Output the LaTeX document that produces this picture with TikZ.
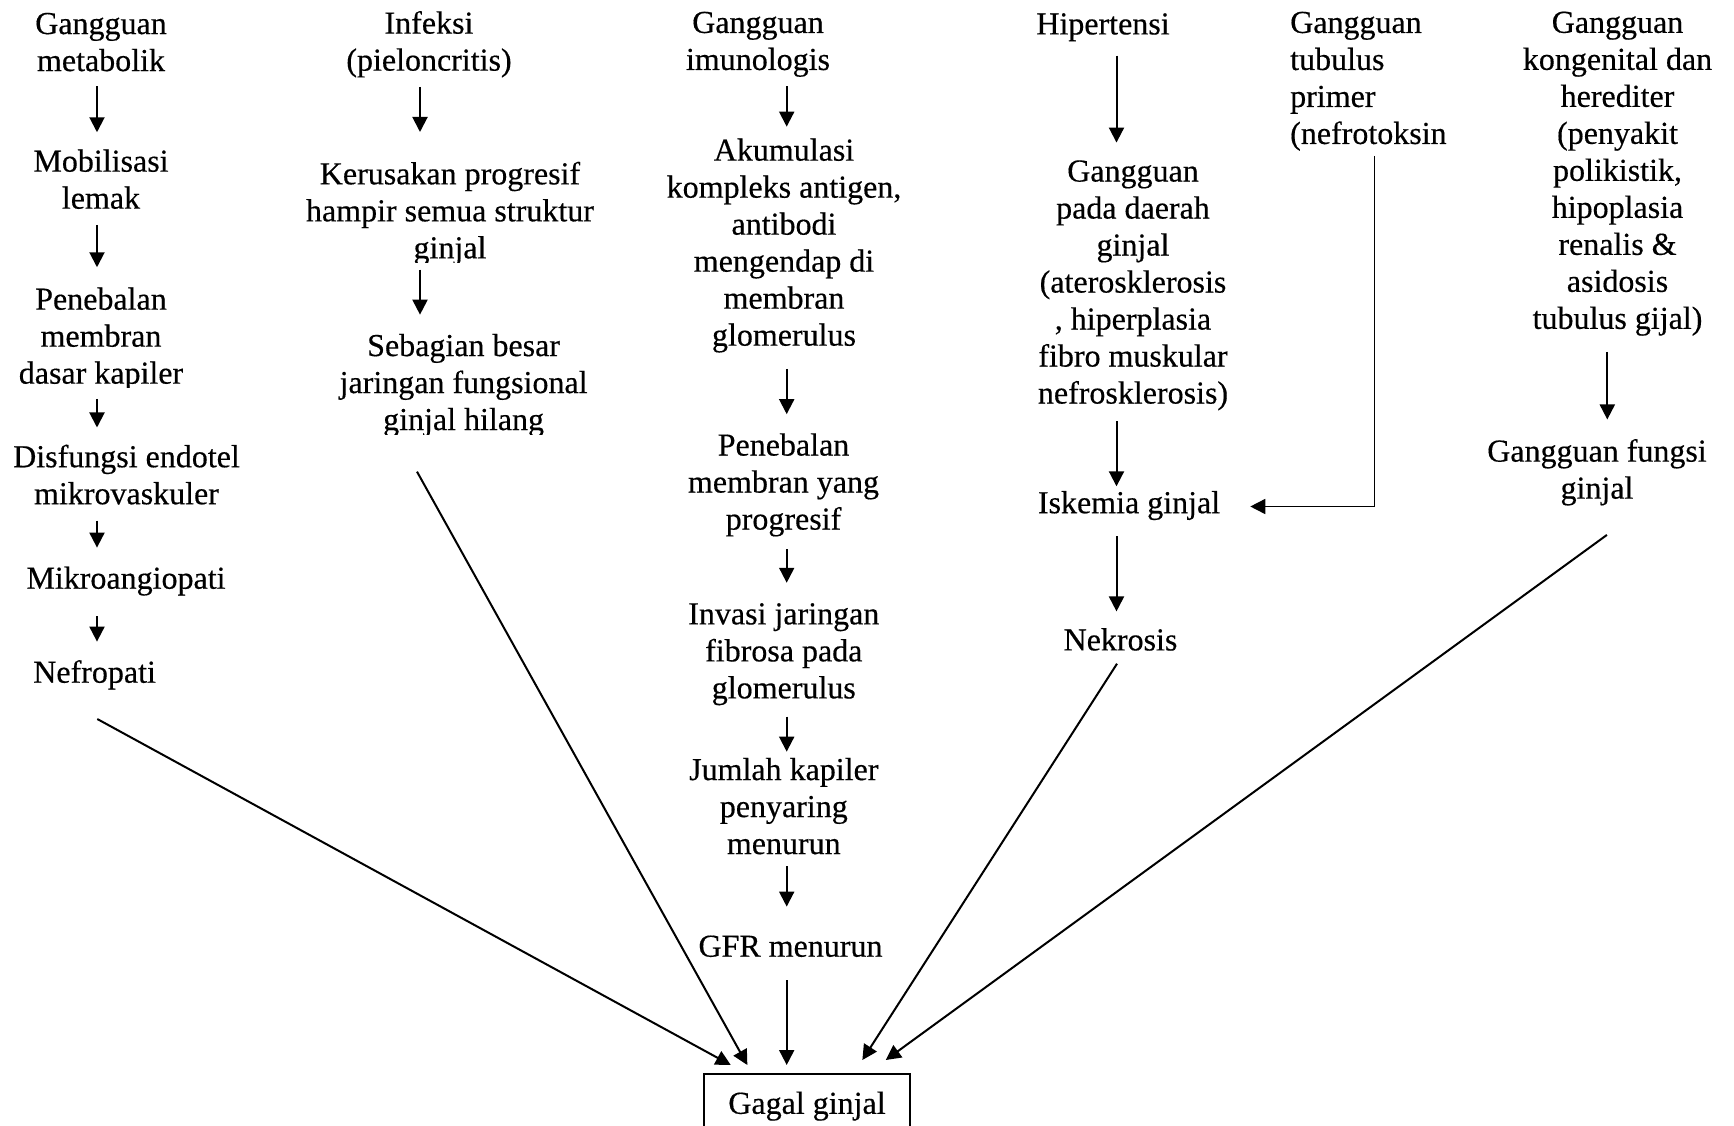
\documentclass[tikz,border=0pt]{standalone}
\usepackage{fontspec}
\setmainfont{Liberation Serif}[FakeBold=0.4]
\usetikzlibrary{arrows.meta,calc}
\begin{document}
\begin{tikzpicture}[x=1pt,y=-1pt,
  txt/.style={align=center, inner sep=0pt, font=\fontsize{32pt}{37pt}\selectfont,
    execute at begin node=\strut, execute at end node=\strut},
  txtl/.style={txt, align=left},
  arr/.style={line width=2pt, -{Triangle[length=15pt,width=15pt]}},
  thinarr/.style={line width=1.6pt, -{Triangle[length=15pt,width=15pt]}},
  boxed/.style={txt, draw, line width=1.6pt, minimum width=205.7pt, minimum height=64.6pt, anchor=north}
]
\clip (0,0) rectangle (1734,1125);
\fill[white] (0,0) rectangle (1734,1125);

% ---------- column 1 ----------
\coordinate (c1) at (97,0);
\node[txt] (m1) at (101,47.5) {Gangguan\\metabolik};
\node[txt] (m2) at (101,184.6) {Mobilisasi\\lemak};
\begin{scope}
  \clip (0,250) rectangle (300,387.5);
  \node[txt] (m3) at (101,341.1) {Penebalan\\membran\\dasar kapiler};
\end{scope}
\node[txt] (m4) at (126.5,480) {Disfungsi endotel\\mikrovaskuler};
\node[txt] (m5) at (126,581.3) {Mikroangiopati};
\node[txt] (m6) at (94.6,675.3) {Nefropati};
\draw[arr, shorten <=4pt, shorten >=17pt] (m1.south -| c1) -- (m2.north -| c1);
\draw[arr, shorten <=5pt, shorten >=20pt] (m2.south -| c1) -- (m3.north -| c1);
\draw[arr, shorten <=4pt, shorten >=17pt] (m3.south -| c1) -- (m4.north -| c1);
\draw[arr, shorten <=5pt, shorten >=15pt] (m4.south -| c1) -- (m5.north -| c1);
\draw[arr, shorten <=16pt, shorten >=15pt] (m5.south -| c1) -- (m6.north -| c1);

% ---------- column 2 ----------
\coordinate (c2) at (420,0);
\node[txt] (i1) at (429,46.4) {Infeksi\\(pieloncritis)};
\begin{scope}
  \clip (250,120) rectangle (650,262);
  \node[txt] (i2) at (450,215.6) {Kerusakan progresif\\hampir semua struktur\\ginjal};
\end{scope}
\begin{scope}
  \clip (250,300) rectangle (650,434);
  \node[txt] (i3) at (463.6,387.5) {Sebagian besar\\jaringan fungsional\\ginjal hilang};
\end{scope}
\draw[arr, shorten <=5pt, shorten >=29.6pt] (i1.south -| c2) -- (i2.north -| c2);
\draw[arr, shorten <=0pt, shorten >=19pt] (i2.south -| c2) -- (i3.north -| c2);

% ---------- column 3 ----------
\coordinate (c3) at (786.7,0);
\node[txt] (g1) at (758,46.4) {Gangguan\\imunologis};
\node[txt] (g2) at (784,247.6) {Akumulasi\\kompleks antigen,\\antibodi\\mengendap di\\membran\\glomerulus};
\node[txt] (g3) at (783.5,487) {Penebalan\\membran yang\\progresif};
\node[txt] (g4) at (783.8,656.3) {Invasi jaringan\\fibrosa pada\\glomerulus};
\node[txt] (g5) at (783.8,811.5) {Jumlah kapiler\\penyaring\\menurun};
\node[txt] (g6) at (790.5,949.3) {GFR menurun};
\draw[arr, shorten <=5pt, shorten >=11.6pt] (g1.south -| c3) -- (g2.north -| c3);
\draw[arr, shorten <=11.9pt, shorten >=19pt] (g2.south -| c3) -- (g3.north -| c3);
\draw[arr, shorten <=8.2pt, shorten >=20.2pt] (g3.south -| c3) -- (g4.north -| c3);
\draw[arr, shorten <=7pt, shorten >=6pt] (g4.south -| c3) -- (g5.north -| c3);
\draw[arr, shorten <=1pt, shorten >=24pt] (g5.south -| c3) -- (g6.north -| c3);

% ---------- column 4 ----------
\coordinate (c4) at (1116.5,0);
\node[txt] (h1) at (1103,27) {Hipertensi};
\node[txt] (h2) at (1133,287.5) {Gangguan\\pada daerah\\ginjal\\(aterosklerosis\\, hiperplasia\\fibro muskular\\nefrosklerosis)};
\node[txt] (h3) at (1129,505.8) {Iskemia ginjal};
\node[txt] (h4) at (1120.5,643) {Nekrosis};
\draw[arr, shorten <=9.8pt, shorten >=17.6pt] (h1.south -| c4) -- (h2.north -| c4);
\draw[arr, shorten <=6.6pt, shorten >=0.8pt] (h2.south -| c4) -- (h3.north -| c4);
\draw[arr, shorten <=11.7pt, shorten >=12.9pt] (h3.south -| c4) -- (h4.north -| c4);

% ---------- column 5 ----------
\coordinate (c5) at (1374.5,0);
\node[txtl, anchor=west] (t1) at (1290,83.4) {Gangguan\\tubulus\\primer\\(nefrotoksin};
\draw[thinarr] ([shift={(0,0.6)}]t1.south -| c5) |- ([shift={(30,0.7)}]h3.east);

% ---------- column 6 ----------
\coordinate (c6) at (1607.3,0);
\node[txt] (k1) at (1617.5,175.8) {Gangguan\\kongenital dan\\herediter\\(penyakit\\polikistik,\\hipoplasia\\renalis \&\\asidosis\\tubulus gijal)};
\node[txt] (k2) at (1597,474.4) {Gangguan fungsi\\ginjal};
\draw[arr, shorten <=11.6pt, shorten >=19.4pt] (k1.south -| c6) -- (k2.north -| c6);

% ---------- result ----------
\node[boxed] (gg) at (807,1073.3) {Gagal ginjal};
\draw[arr, shorten <=12.2pt, shorten >=8.3pt] (g6.south -| c3) -- (gg.north -| c3);
\draw[arr] ([shift={(2.7,25)}]m6.south) -- ($(gg.north west)+(27.4,-8.3)$);
\draw[arr] ([shift={(-46.6,30.3)}]i3.south) -- ($(gg.north west)+(44,-8.3)$);
\draw[arr] ([shift={(-3.5,2)}]h4.south) -- ($(gg.north west)+(159,-13.3)$);
\draw[arr] ([shift={(9.9,25)}]k2.south) -- ($(gg.north west)+(182.4,-13.3)$);
\end{tikzpicture}
\end{document}
